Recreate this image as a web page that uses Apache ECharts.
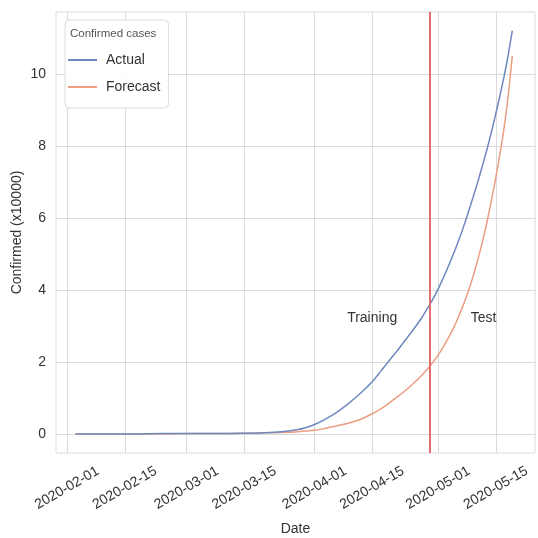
<!DOCTYPE html>
<html>
<head>
<meta charset="utf-8">
<script src="https://cdn.jsdelivr.net/npm/echarts@6/dist/echarts.min.js"></script>
<style>
html,body{margin:0;padding:0;background:#fff;}
#chart{width:538px;height:538px;}
</style>
</head>
<body>
<div id="chart"></div>
<script>
// ---- data (values in units of 10000 confirmed cases) ----
const dates = [
  '2020-02-03','2020-02-10','2020-02-17','2020-02-24','2020-03-02','2020-03-09','2020-03-16',
  '2020-03-20','2020-03-24','2020-03-28','2020-03-30','2020-04-01','2020-04-03','2020-04-05',
  '2020-04-07','2020-04-09','2020-04-11','2020-04-13','2020-04-15','2020-04-17','2020-04-19',
  '2020-04-21','2020-04-23','2020-04-25','2020-04-27','2020-04-29','2020-04-30','2020-05-01',
  '2020-05-02','2020-05-03','2020-05-04','2020-05-05','2020-05-06','2020-05-07','2020-05-08',
  '2020-05-09','2020-05-10','2020-05-11','2020-05-12','2020-05-13','2020-05-14','2020-05-15',
  '2020-05-16','2020-05-17','2020-05-18','2020-05-19'
];
const actual = [
  0.0, 0.0, 0.0, 0.01, 0.01, 0.01, 0.02,
  0.03, 0.06, 0.12, 0.18, 0.26, 0.37, 0.5,
  0.65, 0.82, 1.01, 1.22, 1.45, 1.73, 2.02,
  2.3, 2.6, 2.9, 3.22, 3.6, 3.8, 4.02,
  4.27, 4.53, 4.8, 5.08, 5.38, 5.7, 6.04,
  6.4, 6.77, 7.15, 7.55, 7.97, 8.42, 8.9,
  9.4, 9.93, 10.53, 11.2
];
const forecast = [
  0.0, 0.0, 0.0, 0.0, 0.01, 0.01, 0.02,
  0.03, 0.04, 0.06, 0.08, 0.1, 0.14, 0.19,
  0.24, 0.29, 0.36, 0.45, 0.56, 0.69, 0.85,
  1.02, 1.2, 1.4, 1.62, 1.88, 2.03, 2.19,
  2.37, 2.57, 2.78, 3.01, 3.27, 3.55, 3.86,
  4.2, 4.58, 5.0, 5.46, 5.97, 6.53, 7.13,
  7.78, 8.5, 9.4, 10.5
];
const xTicks = ['2020-02-01','2020-02-15','2020-03-01','2020-03-15','2020-04-01','2020-04-15','2020-05-01','2020-05-15'];
const yTicks = [0, 2, 4, 6, 8, 10];
const splitDate = '2020-04-29';
const trainingLabel = { text: 'Training', date: '2020-04-15', value: 3.22 };
const testLabel = { text: 'Test', date: '2020-05-12', value: 3.22 };

// ---- helpers ----
const DAY = 86400000;
function ts(s){ const p = s.split('-').map(Number); return Date.UTC(p[0], p[1]-1, p[2]); }
function pad(n){ return (n < 10 ? '0' : '') + n; }
function fmt(v){ const d = new Date(Math.round(v)); return d.getUTCFullYear() + '-' + pad(d.getUTCMonth()+1) + '-' + pad(d.getUTCDate()); }

const FONT = 'Liberation Sans, Arial, sans-serif';
const TXT = '#333333';
const GRID = '#dadada';

const chart = echarts.init(document.getElementById('chart'), null, { renderer: 'canvas' });
chart.setOption({
  animation: false,
  backgroundColor: '#ffffff',
  textStyle: { fontFamily: FONT },
  grid: { left: 56, right: 3, top: 12, bottom: 85, containLabel: false, outerBoundsMode: 'none',
          show: true, borderColor: GRID, borderWidth: 1 },
  title: {
    text: 'Confirmed cases', left: 70, top: 28, padding: 0, z: 10,
    textStyle: { fontSize: 11.5, fontWeight: 'normal', color: '#555', fontFamily: FONT }
  },
  legend: {
    orient: 'vertical', left: 65, top: 20,
    padding: [33, 8, 14, 3], itemGap: 13,
    backgroundColor: 'rgba(255,255,255,0.9)', borderColor: '#dddddd', borderWidth: 1, borderRadius: 4,
    icon: 'rect', itemWidth: 29, itemHeight: 2,
    textStyle: { fontSize: 14, color: TXT, fontFamily: FONT, padding: [0, 0, 0, 4] },
    data: ['Actual', 'Forecast']
  },
  xAxis: {
    type: 'value',
    min: ts(xTicks[0]) - 2.7 * DAY,
    max: ts(xTicks[0]) + 113.5 * DAY,
    name: 'Date', nameLocation: 'middle', nameGap: 69, nameMoveOverlap: false,
    nameTextStyle: { fontSize: 14, color: TXT, fontFamily: FONT },
    axisLine: { show: false },
    axisTick: { show: false, customValues: xTicks.map(ts) },
    axisLabel: {
      customValues: xTicks.map(ts), rotate: 30, align: 'center', verticalAlign: 'middle',
      margin: 35, fontSize: 14, color: TXT, fontFamily: FONT, hideOverlap: false,
      formatter: function (v) { return fmt(v); }
    },
    splitLine: { show: true, lineStyle: { color: GRID, width: 1 } }
  },
  yAxis: {
    type: 'value', min: -0.53, max: 11.72,
    name: 'Confirmed (x10000)', nameLocation: 'middle', nameGap: 32, nameMoveOverlap: false,
    nameTextStyle: { fontSize: 14, color: TXT, fontFamily: FONT },
    axisLine: { show: false },
    axisTick: { show: false, customValues: yTicks },
    axisLabel: { customValues: yTicks, margin: 10, fontSize: 14, color: TXT, fontFamily: FONT },
    splitLine: { show: true, lineStyle: { color: GRID, width: 1 } }
  },
  series: [
    {
      name: 'Actual', type: 'line', showSymbol: false, symbol: 'none', smooth: 0.3,
      data: dates.map((d, i) => [ts(d), actual[i]]),
      lineStyle: { color: '#6f88c0', width: 1.5 }, itemStyle: { color: '#6f88c0' },
      z: 3,
      markLine: {
        silent: true, symbol: 'none', label: { show: false },
        lineStyle: { color: '#de7070', width: 2, type: 'solid' },
        data: [{ xAxis: ts(splitDate) }]
      },
      markPoint: {
        silent: true, symbol: 'circle', symbolSize: 0,
        label: { show: true, position: 'inside', fontSize: 14, color: TXT, fontFamily: FONT,
                 formatter: p => p.name },
        data: [
          { name: trainingLabel.text, coord: [ts(trainingLabel.date), trainingLabel.value] },
          { name: testLabel.text, coord: [ts(testLabel.date), testLabel.value] }
        ]
      }
    },
    {
      name: 'Forecast', type: 'line', showSymbol: false, symbol: 'none', smooth: 0.3,
      data: dates.map((d, i) => [ts(d), forecast[i]]),
      lineStyle: { color: '#eb9e80', width: 1.5 }, itemStyle: { color: '#eb9e80' },
      z: 2
    }
  ]
});
</script>
</body>
</html>
